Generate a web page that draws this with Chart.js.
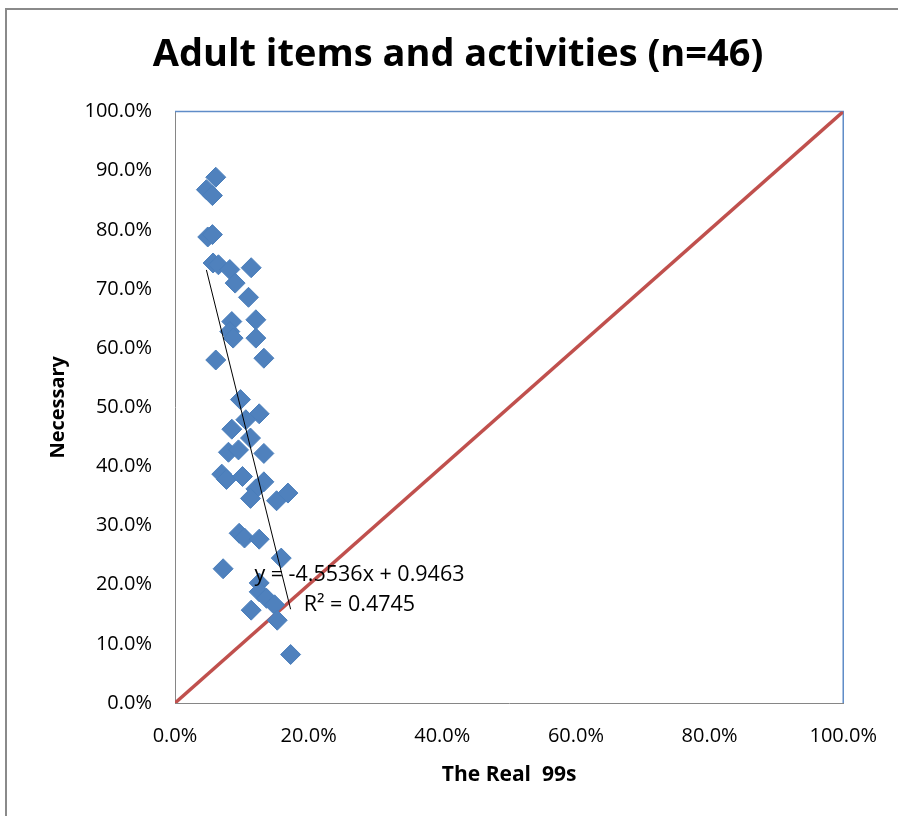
<!DOCTYPE html>
<html>
<head>
<meta charset="utf-8">
<script src="https://cdn.jsdelivr.net/npm/chart.js@4.4.1/dist/chart.umd.min.js"></script>
<style>
html, body { margin: 0; padding: 0; background: #fff; }
#wrap { position: relative; width: 898px; height: 816px; overflow: hidden; }
#frame { position: absolute; left: 5px; top: 8px; right: -10px; bottom: -10px;
         border-left: 2px solid #8a8a8a; border-top: 2px solid #8a8a8a; }
canvas { position: absolute; left: 0; top: 0; }
</style>
</head>
<body>
<div id="wrap">
  <div id="frame"></div>
  <canvas id="chart" width="898" height="816"></canvas>
</div>
<script>
// The Real 99s (x) vs Necessary (y)
const realX = [0.061, 0.047, 0.056, 0.049, 0.056, 0.057, 0.065, 0.082, 0.114, 0.090,
               0.110, 0.085, 0.121, 0.082, 0.087, 0.121, 0.061, 0.133, 0.098, 0.126,
               0.106, 0.085, 0.113, 0.080, 0.095, 0.133, 0.070, 0.077, 0.101, 0.133,
               0.121, 0.113, 0.152, 0.169, 0.096, 0.104, 0.126, 0.159, 0.072, 0.126,
               0.126, 0.137, 0.149, 0.114, 0.153, 0.173];
const necessaryY = [0.889, 0.868, 0.858, 0.788, 0.792, 0.744, 0.741, 0.733, 0.736, 0.710,
                    0.686, 0.645, 0.648, 0.628, 0.617, 0.617, 0.580, 0.583, 0.513, 0.489,
                    0.479, 0.463, 0.448, 0.424, 0.428, 0.422, 0.387, 0.378, 0.383, 0.374,
                    0.362, 0.346, 0.342, 0.355, 0.287, 0.279, 0.277, 0.245, 0.227, 0.203,
                    0.188, 0.177, 0.166, 0.157, 0.140, 0.082];

// equal line
const diagX = [0, 1];
const diagY = [0, 1];

// linear trend shown on the chart
const trendSlope = -4.5536;
const trendIntercept = 0.9463;
const trendLines = ['y = -4.5536x + 0.9463', 'R\u00b2 = 0.4745'];

const pct = v => (v * 100).toFixed(1) + '%';

const minX = Math.min(...realX);
const maxX = Math.max(...realX);
const trendData = [minX, maxX].map(x => ({ x: x, y: trendSlope * x + trendIntercept }));

const FONT = '"Open Sans", Lato, sans-serif';
Chart.defaults.font.family = FONT;
Chart.defaults.color = '#000';

// top/right edge of the plot box + the trendline label
const plotExtras = {
    id: 'plotExtras',
    beforeDatasetsDraw(chart) {
        const a = chart.chartArea;
        const ctx = chart.ctx;
        ctx.save();
        ctx.strokeStyle = '#5f8cc8';
        ctx.lineWidth = 1.5;
        ctx.beginPath();
        ctx.moveTo(a.left, a.top);
        ctx.lineTo(a.right, a.top);
        ctx.lineTo(a.right, a.bottom);
        ctx.stroke();
        ctx.restore();
    },
    afterDatasetsDraw(chart, args, opts) {
        const ctx = chart.ctx;
        const cx = chart.scales.x.getPixelForValue(opts.x);
        const cy = chart.scales.y.getPixelForValue(opts.y);
        ctx.save();
        ctx.font = '21.5px ' + FONT;
        ctx.fillStyle = '#000';
        ctx.textAlign = 'center';
        ctx.textBaseline = 'middle';
        ctx.fillText(trendLines[0], cx, cy - 15);
        ctx.fillText(trendLines[1], cx, cy + 15);
        ctx.restore();
    }
};

new Chart(document.getElementById('chart'), {
    data: {
        datasets: [
            {
                type: 'line',
                data: trendData,
                borderColor: '#000',
                borderWidth: 1,
                pointRadius: 0,
                order: 0
            },
            {
                type: 'scatter',
                data: realX.map((x, i) => ({ x: x, y: necessaryY[i] })),
                pointStyle: 'rectRot',
                pointRadius: 10,
                backgroundColor: '#4f81bd',
                borderColor: '#4a7ebb',
                borderWidth: 1,
                order: 1
            },
            {
                type: 'line',
                data: diagX.map((x, i) => ({ x: x, y: diagY[i] })),
                borderColor: '#c0504d',
                borderWidth: 3.5,
                pointRadius: 0,
                order: 2
            }
        ]
    },
    options: {
        responsive: false,
        animation: false,
        layout: { padding: { left: 18, top: 0, right: 0, bottom: 23 } },
        scales: {
            x: {
                type: 'linear',
                min: 0,
                max: 1,
                afterFit: s => { s.height = 90; },
                border: { color: '#868686', width: 1 },
                grid: { display: false, drawTicks: false },
                ticks: { stepSize: 0.2, padding: 21, callback: pct, font: { size: 20 } },
                title: {
                    display: true,
                    text: 'The Real  99s',
                    font: { size: 21, weight: 'bold' },
                    padding: { top: 0, bottom: 5 }
                }
            },
            y: {
                type: 'linear',
                min: 0,
                max: 1,
                afterFit: s => { s.width = 157; },
                border: { color: '#868686', width: 1 },
                grid: { display: false, drawTicks: false },
                ticks: { stepSize: 0.1, padding: 23, callback: pct, font: { size: 20 } },
                title: {
                    display: true,
                    text: 'Necessary',
                    font: { size: 20, weight: 'bold' },
                    padding: { top: 28, bottom: 0 }
                }
            },
            // empty right-hand spacer so the title centres on the whole picture
            yRight: {
                type: 'linear',
                position: 'right',
                afterFit: s => { s.width = 53; },
                border: { display: false },
                grid: { display: false, drawTicks: false },
                ticks: { display: false }
            }
        },
        plugins: {
            legend: { display: false },
            tooltip: { enabled: false },
            title: {
                display: true,
                text: 'Adult items and activities (n=46)',
                font: { size: 38, weight: 'bold' },
                color: '#000',
                padding: { top: 32, bottom: 34 }
            },
            plotExtras: { x: 0.276, y: 0.191 }
        }
    },
    plugins: [plotExtras]
});
</script>
</body>
</html>
